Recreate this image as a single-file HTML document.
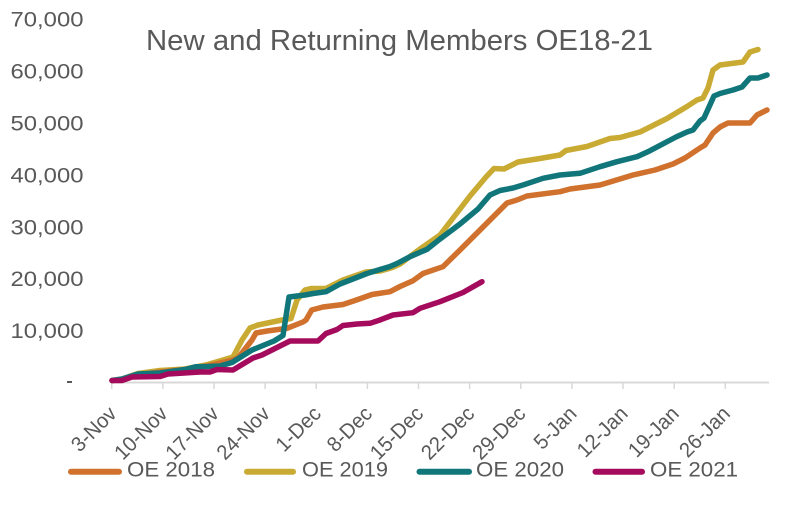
<!DOCTYPE html>
<html>
<head>
<meta charset="utf-8">
<style>
html,body{margin:0;padding:0;background:#fff;}
svg{display:block;}
text{font-family:"Liberation Sans",sans-serif;fill:#595959;}
</style>
</head>
<body>
<svg width="800" height="509" viewBox="0 0 800 509" xmlns="http://www.w3.org/2000/svg">
<rect width="800" height="509" fill="#fff"/>
<!-- title -->
<text x="146" y="50" font-size="29" textLength="507" lengthAdjust="spacingAndGlyphs">New and Returning Members OE18-21</text>
<!-- y labels -->
<g font-size="21" text-anchor="end">
<text x="83.5" y="26.7" textLength="73" lengthAdjust="spacingAndGlyphs">70,000</text>
<text x="83.5" y="78.6" textLength="73" lengthAdjust="spacingAndGlyphs">60,000</text>
<text x="83.5" y="130.5" textLength="73" lengthAdjust="spacingAndGlyphs">50,000</text>
<text x="83.5" y="182.4" textLength="73" lengthAdjust="spacingAndGlyphs">40,000</text>
<text x="83.5" y="234.3" textLength="73" lengthAdjust="spacingAndGlyphs">30,000</text>
<text x="83.5" y="286.2" textLength="73" lengthAdjust="spacingAndGlyphs">20,000</text>
<text x="83.5" y="338" textLength="73" lengthAdjust="spacingAndGlyphs">10,000</text>
</g>
<rect x="67" y="381" width="5" height="2" fill="#595959"/>
<!-- axis -->
<line x1="111" y1="382.5" x2="769" y2="382.5" stroke="#d9d9d9" stroke-width="2"/>
<g stroke="#d9d9d9" stroke-width="1.5">
<line x1="111.7" y1="382.5" x2="111.7" y2="389"/>
<line x1="162.8" y1="382.5" x2="162.8" y2="389"/>
<line x1="214" y1="382.5" x2="214" y2="389"/>
<line x1="265.1" y1="382.5" x2="265.1" y2="389"/>
<line x1="316.2" y1="382.5" x2="316.2" y2="389"/>
<line x1="367.4" y1="382.5" x2="367.4" y2="389"/>
<line x1="418.5" y1="382.5" x2="418.5" y2="389"/>
<line x1="469.6" y1="382.5" x2="469.6" y2="389"/>
<line x1="520.8" y1="382.5" x2="520.8" y2="389"/>
<line x1="571.9" y1="382.5" x2="571.9" y2="389"/>
<line x1="623" y1="382.5" x2="623" y2="389"/>
<line x1="674.2" y1="382.5" x2="674.2" y2="389"/>
<line x1="725.3" y1="382.5" x2="725.3" y2="389"/>
</g>
<!-- x labels -->
<g font-size="21" text-anchor="end">
<text transform="translate(117.7,415) rotate(-45) scale(0.96,1)">3-Nov</text>
<text transform="translate(168.8,415) rotate(-45) scale(0.96,1)">10-Nov</text>
<text transform="translate(220,415) rotate(-45) scale(0.96,1)">17-Nov</text>
<text transform="translate(271.1,415) rotate(-45) scale(0.96,1)">24-Nov</text>
<text transform="translate(322.2,415) rotate(-45) scale(0.96,1)">1-Dec</text>
<text transform="translate(373.4,415) rotate(-45) scale(0.96,1)">8-Dec</text>
<text transform="translate(424.5,415) rotate(-45) scale(0.96,1)">15-Dec</text>
<text transform="translate(475.6,415) rotate(-45) scale(0.96,1)">22-Dec</text>
<text transform="translate(526.8,415) rotate(-45) scale(0.96,1)">29-Dec</text>
<text transform="translate(577.9,415) rotate(-45) scale(0.96,1)">5-Jan</text>
<text transform="translate(629,415) rotate(-45) scale(0.96,1)">12-Jan</text>
<text transform="translate(680.2,415) rotate(-45) scale(0.96,1)">19-Jan</text>
<text transform="translate(731.3,415) rotate(-45) scale(0.96,1)">26-Jan</text>
</g>
<!-- series -->
<g fill="none" stroke-width="5.5" stroke-linejoin="round" stroke-linecap="round">
<polyline stroke="#C9AB33" points="112,380.5 122,379 138,373.5 160,370.5 185,369 206,365 233,357 242,340 250,328 258,325 282,320 291,318.5 297,300 305,290 311,288.5 326,288.5 343,280 366,272 380,271 393,267.3 400,264 420,249 440,235 450,222 470,196 486,177 494,168.5 504,169 518,162 540,158.5 560,155 566,150.5 587,146.5 610,138.5 620,137.5 640,132 654,125 667,118.5 687,106.5 697,100 703,98 708,88 713,70 720,65 743,62 750,52 758,49.5"/>
<polyline stroke="#D0712D" points="112,380.5 122,380 132,376 160,372 185,369.5 207,366 233,360 238,358 252,340 256,333 267,331 287,328.3 303,322 306,320 311.7,310 323,307 343,304.5 355,300.5 372,294.5 390,291.7 400,286.5 413,280.7 423,273.5 443,266.7 460,250 477,233 497,213 507,203 517,200 527,196 560,191.7 570,189 600,185 610,182 633,175 655,170 673,164 685,158 700,148 705,145 713,133 720,127 728,123 750,123 757,115 767,110"/>
<polyline stroke="#11767A" points="112,380.5 122,379 138,374 160,373 185,369.5 196,366.7 208,366.5 220,366 232,362.5 252,350 274,341 283,335.5 289,297 305,295 313,293.5 326,291.7 340,284 367,273.5 390,266.5 397,263.5 410,256.7 427,249.3 440,239 460,224 478,209 490,195 500,190.5 513,188 523,185 543,178.3 560,175 580,173.3 600,166.7 617,161.7 637,156.7 650,150.7 676,137 687,132 693,130 700,121 704,118 714,96 720,93.5 733,90 742,87 750,78 758,78 767,75"/>
<polyline stroke="#A50B5C" points="112,380.5 122,380.5 132,377 160,376.5 168,374 200,372 210,372 217,369.5 233,370 253,358 262,355 290,341 318,341 326,333.5 337,329.5 343,325.5 357,324 370,323.3 380,320 393,315 413,312.7 420,308.3 440,301.7 463,292.5 482,281.7"/>
</g>
<!-- legend -->
<g stroke-width="6" stroke-linecap="round">
<line x1="71" y1="471.7" x2="119" y2="471.7" stroke="#D0712D"/>
<line x1="247" y1="471.7" x2="293" y2="471.7" stroke="#C9AB33"/>
<line x1="419.5" y1="471.7" x2="469" y2="471.7" stroke="#11767A"/>
<line x1="595.5" y1="471.7" x2="642" y2="471.7" stroke="#A50B5C"/>
</g>
<g font-size="21">
<text x="127" y="476.7" textLength="88" lengthAdjust="spacingAndGlyphs">OE 2018</text>
<text x="302" y="476.7" textLength="86" lengthAdjust="spacingAndGlyphs">OE 2019</text>
<text x="476" y="476.7" textLength="88" lengthAdjust="spacingAndGlyphs">OE 2020</text>
<text x="650" y="476.7" textLength="88" lengthAdjust="spacingAndGlyphs">OE 2021</text>
</g>
</svg>
</body>
</html>
